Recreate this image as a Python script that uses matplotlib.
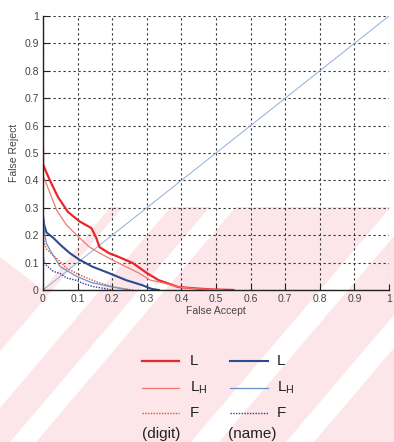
import matplotlib
matplotlib.use('Agg')
import matplotlib.pyplot as plt
from matplotlib.lines import Line2D
from matplotlib.patches import Polygon

plt.rcParams['font.family'] = ['Liberation Sans', 'DejaVu Sans']

# DET curves: false accept (x) vs false reject (y)
digit_L_fa = [0, 0, 0.006, 0.02, 0.043, 0.072, 0.106, 0.14, 0.154, 0.163, 0.19, 0.22, 0.26, 0.30, 0.334, 0.39, 0.45, 0.49, 0.55]
digit_L_fr = [0.52, 0.46, 0.44, 0.40, 0.34, 0.285, 0.25, 0.226, 0.19, 0.157, 0.135, 0.12, 0.098, 0.062, 0.036, 0.011, 0.005, 0.002, 0]

digit_LH_fa = [0, 0.006, 0.02, 0.04, 0.068, 0.106, 0.134, 0.163, 0.2, 0.24, 0.277, 0.31, 0.35, 0.39, 0.45, 0.52]
digit_LH_fr = [0.42, 0.40, 0.354, 0.29, 0.237, 0.19, 0.157, 0.135, 0.11, 0.085, 0.062, 0.036, 0.025, 0.011, 0.004, 0]

digit_F_fa = [0, 0.004, 0.01, 0.03, 0.04, 0.068, 0.106, 0.154, 0.2, 0.26]
digit_F_fr = [0.21, 0.17, 0.15, 0.125, 0.115, 0.08, 0.055, 0.03, 0.012, 0]

name_L_fa = [0, 0.003, 0.01, 0.03, 0.05, 0.077, 0.106, 0.143, 0.19, 0.24, 0.286, 0.314, 0.335]
name_L_fr = [0.27, 0.24, 0.21, 0.19, 0.165, 0.135, 0.11, 0.085, 0.062, 0.036, 0.018, 0.004, 0]

name_LH_fa = [0, 0.003, 0.01, 0.02, 0.05, 0.097, 0.14, 0.2, 0.25]
name_LH_fr = [0.30, 0.22, 0.17, 0.146, 0.085, 0.05, 0.027, 0.011, 0]

name_F_fa = [0, 0.004, 0.01, 0.03, 0.05, 0.068, 0.097, 0.114, 0.143, 0.163, 0.2]
name_F_fr = [0.13, 0.10, 0.09, 0.068, 0.06, 0.044, 0.035, 0.025, 0.013, 0.009, 0]

ticks = [0, 0.1, 0.2, 0.3, 0.4, 0.5, 0.6, 0.7, 0.8, 0.9, 1]
tick_labels = ['0', '0.1', '0.2', '0.3', '0.4', '0.5', '0.6', '0.7', '0.8', '0.9', '1']

legend_labels = ['L', r'$\mathregular{L_H}$', 'F']
group_names = ['(digit)', '(name)']

W, H = 394, 442

# styles
red_L = dict(color='#e8262c', lw=1.6, ls='-')
red_LH = dict(color='#ef7a6c', lw=0.9, ls='-')
red_F = dict(color='#e0502c', lw=1.0, ls=(0, (1, 1)))
blue_L = dict(color='#2b4c8e', lw=1.5, ls='-')
blue_LH = dict(color='#6f8fc4', lw=0.9, ls='-')
blue_F = dict(color='#33408f', lw=1.0, ls=(0, (1, 1)))


def px(x, y):
    # image pixel -> figure fraction
    return x / W, 1 - y / H


def watermark(fig):
    bg = fig.add_axes([0, 0, 1, 1], zorder=-5)
    bg.set_xlim(0, W)
    bg.set_ylim(H, 0)
    bg.axis('off')
    pink = '#fce6ea'
    bg.add_patch(Polygon([(0, 257), (43, 290), (110, 207), (W, 207), (W, H), (0, H)],
                         closed=True, fc=pink, ec='none'))
    k = 0.85
    for xb, w in [(-53, 24), (23, 13), (205, 14), (300, 14)]:
        bg.add_patch(Polygon([(xb - w, H), (xb + w, H), (xb + w + k * H, 0), (xb - w + k * H, 0)],
                             closed=True, fc='white', ec='none'))


def main():
    fig = plt.figure(figsize=(W / 100, H / 100), dpi=100)
    watermark(fig)

    l, b = px(43, 290)
    r, t = px(389, 16)
    ax = fig.add_axes([l, b, r - l, t - b])
    ax.set_facecolor('none')

    ax.plot([0, 1], [0, 1], color='#8fb0d8', lw=0.7)
    ax.plot(digit_L_fa, digit_L_fr, **red_L)
    ax.plot(digit_LH_fa, digit_LH_fr, **red_LH)
    ax.plot(digit_F_fa, digit_F_fr, **red_F)
    ax.plot(name_L_fa, name_L_fr, **blue_L)
    ax.plot(name_LH_fa, name_LH_fr, **blue_LH)
    ax.plot(name_F_fa, name_F_fr, **blue_F)

    ax.set_xlim(0, 1)
    ax.set_ylim(0, 1)
    ax.set_xticks(ticks)
    ax.set_yticks(ticks)
    ax.set_xticklabels(tick_labels)
    ax.set_yticklabels(tick_labels)
    ax.tick_params(direction='in', length=4, width=0.8, labelsize=7.5, labelcolor='#444', color='#222', pad=3)
    ax.grid(True, color='#333', lw=0.8, ls=(0, (2, 2.5)))
    for s in ['top', 'right']:
        ax.spines[s].set_visible(False)
    for s in ['left', 'bottom']:
        ax.spines[s].set_color('#222')
        ax.spines[s].set_linewidth(1.0)
    ax.set_xlabel('False Accept', fontsize=7.5, color='#444', labelpad=1)
    ax.set_ylabel('False Reject', fontsize=7.5, color='#444', labelpad=4)

    # hand-made legend table below the plot
    rows_y = [361, 388, 413]
    cols = [(142, 179, 190, [red_L, red_LH, red_F]),
            (230, 268, 277, [blue_L, blue_LH, blue_F])]
    for x0, x1, xt, styles in cols:
        for y, lab, st in zip(rows_y, legend_labels, styles):
            (fx0, fy), (fx1, _) = px(x0, y), px(x1, y)
            fig.add_artist(Line2D([fx0, fx1], [fy, fy], transform=fig.transFigure, **st))
            tx, ty = px(xt, y)
            fig.text(tx, ty, lab, fontsize=11, color='#222', va='center', ha='left')
    for xc, name in zip([161, 252], group_names):
        tx, ty = px(xc, 434)
        fig.text(tx, ty, name, fontsize=11, color='#222', va='center', ha='center')

    fig.savefig('out.png', dpi=100)


if __name__ == '__main__':
    main()
